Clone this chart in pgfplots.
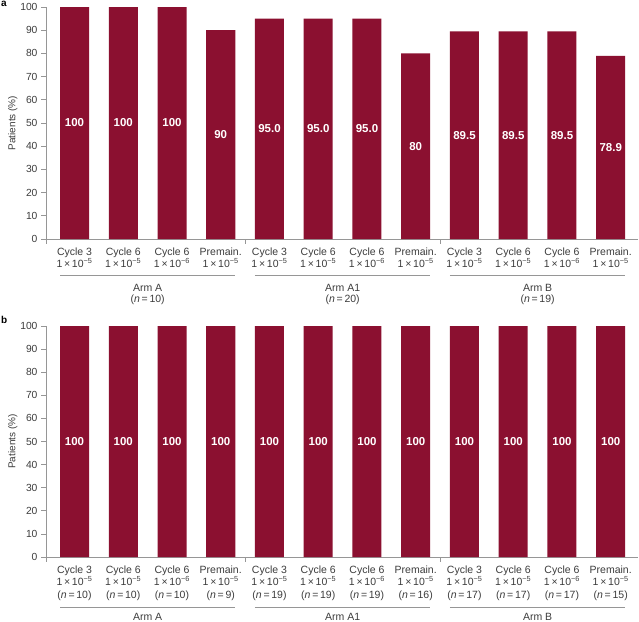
\documentclass[border=0pt]{standalone}
\usepackage{fontspec}
\setmainfont{Liberation Sans}
\usepackage{pgfplots}
\pgfplotsset{compat=1.18}
\usepackage{pgfplotstable}
\definecolor{barc}{RGB}{139,16,48}
\definecolor{axgray}{RGB}{150,150,150}
\definecolor{txt}{RGB}{60,60,60}

\pgfplotstableread{
x y half lab
0 100 50 100
1 100 50 100
2 100 50 100
3 90 45 90
4 95.0 47.5 95.0
5 95.0 47.5 95.0
6 95.0 47.5 95.0
7 80 40 80
8 89.5 44.75 89.5
9 89.5 44.75 89.5
10 89.5 44.75 89.5
11 78.9 39.45 78.9
}\tabA

\pgfplotstableread{
x y half lab
0 100 50 100
1 100 50 100
2 100 50 100
3 100 50 100
4 100 50 100
5 100 50 100
6 100 50 100
7 100 50 100
8 100 50 100
9 100 50 100
10 100 50 100
11 100 50 100
}\tabB

\tikzset{grp/.style={font=\fontsize{10.5}{11.5}\selectfont, text=txt, align=center}}

\pgfplotsset{
  panel/.style={
    scale only axis, width=592pt,
    xmin=-0.585, xmax=11.56, ymin=0, ymax=100,
    axis lines*=left,
    axis line style={axgray, line width=0.8pt},
    ytick={0,10,...,100},
    tick align=outside,
    major tick length=5pt,
    ytick style={axgray, line width=0.8pt},
    xtick={0,...,11},
    xtick style={draw=none},
    /pgf/number format/assume math mode=true,
    yticklabel style={font=\fontsize{10.3}{12}\selectfont, text=txt},
    xticklabel style={font=\fontsize{10.5}{12.5}\selectfont, text=txt, align=center},
    ylabel={Patients (\%)},
    ylabel shift=-4pt,
    ylabel style={font=\fontsize{10}{12}\selectfont, text=txt},
    clip=false,
  },
  vals/.style={draw=none, mark=none, nodes near coords, point meta=explicit symbolic,
    every node near coord/.append style={font=\bfseries\fontsize{11.5}{13}\selectfont, text=white, anchor=center}},
}

\newcommand{\lab}[2]{#1\\1\,×\,10\textsuperscript{−#2}}
\newcommand{\labn}[3]{#1\\1\,×\,10\textsuperscript{−#2}\\(\textit{n}\,=\,#3)}

\begin{document}
\begin{tikzpicture}
\path[use as bounding box] (0,0) rectangle (639pt,-621pt);

\begin{axis}[panel, height=232pt, at={(46pt,-239pt)}, anchor=south west,
  xticklabels={{\lab{Cycle 3}{5}},{\lab{Cycle 6}{5}},{\lab{Cycle 6}{6}},{\lab{Premain.}{5}},
               {\lab{Cycle 3}{5}},{\lab{Cycle 6}{5}},{\lab{Cycle 6}{6}},{\lab{Premain.}{5}},
               {\lab{Cycle 3}{5}},{\lab{Cycle 6}{5}},{\lab{Cycle 6}{6}},{\lab{Premain.}{5}}}]
\addplot[ybar, bar width=0.595, fill=barc, draw=none] table[x=x, y=y] {\tabA};
\addplot[vals] table[x=x, y=half, meta=lab] {\tabA};
\draw[axgray, line width=0.8pt] (axis cs:-0.2975,-15.5) -- (axis cs:3.2975,-15.5);
\draw[axgray, line width=0.8pt] (axis cs:3.7025,-15.5) -- (axis cs:7.2975,-15.5);
\draw[axgray, line width=0.8pt] (axis cs:7.7025,-15.5) -- (axis cs:11.2975,-15.5);
\draw[axgray, line width=0.8pt] (axis cs:-0.585,0) -- (axis cs:-0.585,-2.2);
\draw[axgray, line width=0.8pt] (axis cs:3.5,0) -- (axis cs:3.5,-2.2);
\draw[axgray, line width=0.8pt] (axis cs:7.5,0) -- (axis cs:7.5,-2.2);
\node[anchor=north, grp] at (axis cs:1.5,-17.8) {Arm A\\(\textit{n}\,=\,10)};
\node[anchor=north, grp] at (axis cs:5.5,-17.8) {Arm A1\\(\textit{n}\,=\,20)};
\node[anchor=north, grp] at (axis cs:9.5,-17.8) {Arm B\\(\textit{n}\,=\,19)};
\end{axis}

\begin{axis}[panel, height=231pt, at={(46pt,-557pt)}, anchor=south west,
  xticklabels={{\labn{Cycle 3}{5}{10}},{\labn{Cycle 6}{5}{10}},{\labn{Cycle 6}{6}{10}},{\labn{Premain.}{5}{9}},
               {\labn{Cycle 3}{5}{19}},{\labn{Cycle 6}{5}{19}},{\labn{Cycle 6}{6}{19}},{\labn{Premain.}{5}{16}},
               {\labn{Cycle 3}{5}{17}},{\labn{Cycle 6}{5}{17}},{\labn{Cycle 6}{6}{17}},{\labn{Premain.}{5}{15}}}]
\addplot[ybar, bar width=0.595, fill=barc, draw=none] table[x=x, y=y] {\tabB};
\addplot[vals] table[x=x, y=half, meta=lab] {\tabB};
\draw[axgray, line width=0.8pt] (axis cs:-0.2975,-21.6) -- (axis cs:3.2975,-21.6);
\draw[axgray, line width=0.8pt] (axis cs:3.7025,-21.6) -- (axis cs:7.2975,-21.6);
\draw[axgray, line width=0.8pt] (axis cs:7.7025,-21.6) -- (axis cs:11.2975,-21.6);
\draw[axgray, line width=0.8pt] (axis cs:-0.585,0) -- (axis cs:-0.585,-2.2);
\draw[axgray, line width=0.8pt] (axis cs:3.5,0) -- (axis cs:3.5,-2.2);
\draw[axgray, line width=0.8pt] (axis cs:7.5,0) -- (axis cs:7.5,-2.2);
\node[anchor=base, grp, inner sep=0pt] at (axis cs:1.5,-27.3) {Arm A};
\node[anchor=base, grp, inner sep=0pt] at (axis cs:5.5,-27.3) {Arm A1};
\node[anchor=base, grp, inner sep=0pt] at (axis cs:9.5,-27.3) {Arm B};
\end{axis}

\node[anchor=north west, inner sep=0pt, font=\bfseries\fontsize{10}{12}\selectfont] at (1pt,-1pt) {a};
\node[anchor=north west, inner sep=0pt, font=\bfseries\fontsize{10}{12}\selectfont] at (1pt,-316pt) {b};
\end{tikzpicture}
\end{document}
